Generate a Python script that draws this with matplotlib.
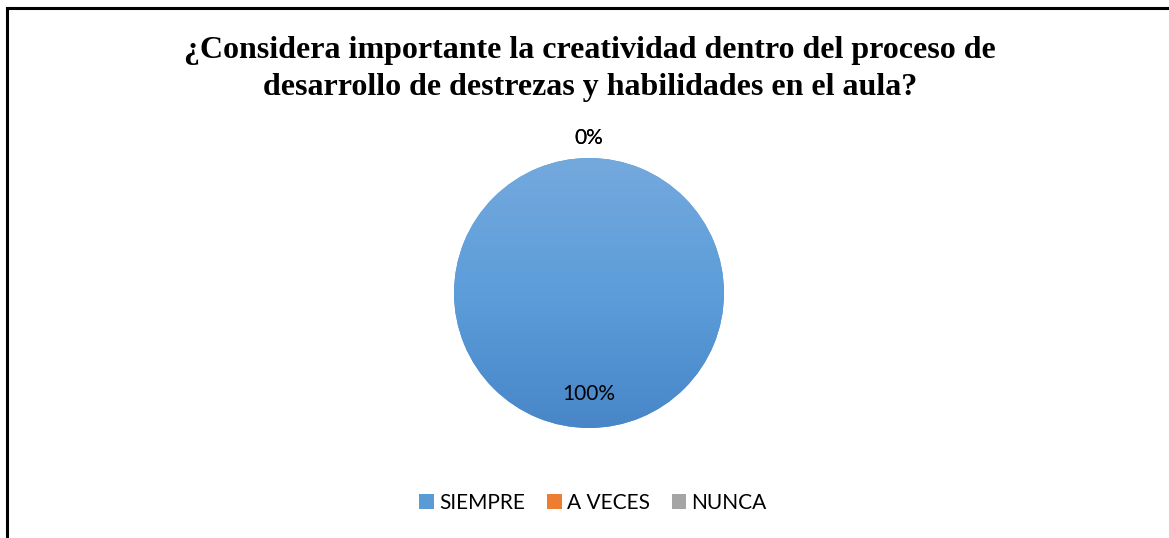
import numpy as np
import matplotlib
matplotlib.use("Agg")
import matplotlib.pyplot as plt
from matplotlib.colors import LinearSegmentedColormap
from matplotlib.patches import Patch

# Données
categories = ["SIEMPRE", "A VECES", "NUNCA"]
valeurs = [100, 0, 0]
couleurs = ["#5B9BD5", "#ED7D31", "#A5A5A5"]
titre = ("¿Considera importante la creatividad dentro del proceso de\n"
         "desarrollo de destrezas y habilidades en el aula?")

fig = plt.figure(figsize=(11.69, 5.38), dpi=100)

# Cadre du graphique (bords haut et gauche visibles)
fig.add_artist(plt.Line2D([7 / 1169, 7 / 1169], [0, 1 - 8 / 538], transform=fig.transFigure,
                          color="black", lw=2.2))
fig.add_artist(plt.Line2D([7 / 1169, 1], [1 - 8 / 538, 1 - 8 / 538], transform=fig.transFigure,
                          color="black", lw=2.2))

fig.text(590 / 1169, 1 - 69 / 538, titre, ha="center", va="center", fontsize=23,
         fontweight="bold", family="Liberation Serif", linespacing=1.38)

# Axe du camembert : centre (589, 293), rayon 135 px, limites ±1.2
r_px = 135 * 1.2
ax = fig.add_axes([(589 - r_px) / 1169, (538 - 293 - r_px) / 538, 2 * r_px / 1169, 2 * r_px / 538])
wedges, _ = ax.pie(valeurs, colors=couleurs, startangle=90, counterclock=False,
                   wedgeprops=dict(linewidth=0))
ax.set_xlim(-1.2, 1.2)
ax.set_ylim(-1.2, 1.2)
ax.set_aspect("equal")
ax.axis("off")

# Dégradé sur la part principale
cmap = LinearSegmentedColormap.from_list("bleu", ["#4886C8", "#5C9DDA", "#74A9DD"])
grad = np.linspace(0, 1, 256).reshape(-1, 1)
img = ax.imshow(grad, cmap=cmap, extent=[-1, 1, -1, 1], origin="lower", aspect="auto", zorder=1)
img.set_clip_path(wedges[0])

# Étiquettes de pourcentage
total = sum(valeurs)
for w, v in zip(wedges, valeurs):
    ang = np.deg2rad((w.theta1 + w.theta2) / 2)
    r = 0.75 if v > 0 else 1.15
    ax.text(r * np.cos(ang), r * np.sin(ang), f"{v / total * 100:.0f}%", ha="center", va="center",
            fontsize=15, family="Lato", color="black", clip_on=False, zorder=3)

# Légende
poignees = [Patch(facecolor=c, edgecolor="none") for c in couleurs]
fig.legend(poignees, categories, loc="center", bbox_to_anchor=(593 / 1169, 1 - 503 / 538), ncol=3,
           frameon=False, prop=dict(family="Lato", size=15), handlelength=0.7, handleheight=0.7,
           handletextpad=0.25, columnspacing=1.05)

fig.savefig("out.png", dpi=100)
plt.close(fig)
